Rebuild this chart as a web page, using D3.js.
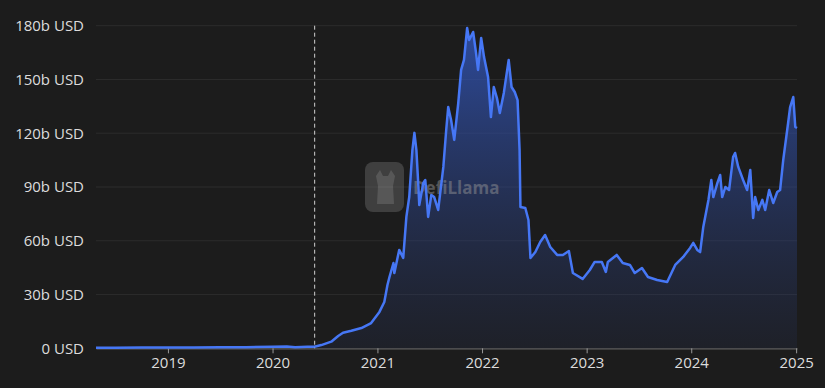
<!DOCTYPE html>
<html>
<head>
<meta charset="utf-8">
<script src="https://cdn.jsdelivr.net/npm/d3@7"></script>
<style>
  html, body { margin: 0; padding: 0; background: #1c1c1c; }
  svg { display: block; }
</style>
</head>
<body>
<div id="chart"></div>
<script>
// TVL data (billions USD)
var dates = [
  "2018-04-25", "2018-07-01", "2018-10-01", "2019-01-01", "2019-04-01", "2019-07-01",
  "2019-10-01", "2020-01-01", "2020-02-20", "2020-03-20", "2020-05-01", "2020-05-26",
  "2020-06-19", "2020-07-24", "2020-08-17", "2020-09-03", "2020-10-02", "2020-11-06",
  "2020-12-10", "2021-01-08", "2021-01-25", "2021-02-05", "2021-02-12", "2021-02-26",
  "2021-03-01", "2021-03-18", "2021-04-01", "2021-04-12", "2021-04-22", "2021-05-03",
  "2021-05-10", "2021-05-17", "2021-05-24", "2021-05-27", "2021-06-10", "2021-06-17",
  "2021-06-27", "2021-07-08", "2021-07-18", "2021-08-01", "2021-08-19", "2021-08-29",
  "2021-09-05", "2021-09-15", "2021-09-26", "2021-10-10", "2021-10-20", "2021-10-30",
  "2021-11-10", "2021-11-17", "2021-12-01", "2021-12-11", "2021-12-18", "2021-12-29",
  "2022-01-08", "2022-01-22", "2022-02-01", "2022-02-11", "2022-02-22", "2022-03-04",
  "2022-03-18", "2022-04-04", "2022-04-14", "2022-04-25", "2022-05-05", "2022-05-12",
  "2022-05-15", "2022-06-01", "2022-06-12", "2022-06-19", "2022-07-06", "2022-07-23",
  "2022-08-09", "2022-08-27", "2022-09-20", "2022-10-10", "2022-10-31", "2022-11-14",
  "2022-12-18", "2023-01-12", "2023-01-29", "2023-02-23", "2023-03-09", "2023-03-16",
  "2023-04-16", "2023-05-07", "2023-06-01", "2023-06-18", "2023-07-13", "2023-08-03",
  "2023-09-04", "2023-10-09", "2023-11-06", "2023-12-04", "2023-12-28", "2024-01-08",
  "2024-01-22", "2024-02-01", "2024-02-12", "2024-03-01", "2024-03-11", "2024-03-18",
  "2024-04-01", "2024-04-11", "2024-04-18", "2024-04-29", "2024-05-12", "2024-05-26",
  "2024-06-02", "2024-06-13", "2024-06-30", "2024-07-14", "2024-07-25", "2024-08-04",
  "2024-08-11", "2024-08-22", "2024-09-05", "2024-09-15", "2024-09-29", "2024-10-13",
  "2024-10-27", "2024-11-06", "2024-11-17", "2024-12-04", "2024-12-11", "2024-12-22",
  "2024-12-29", "2025-01-04"
];
var tvl = [
  0.3, 0.3, 0.4, 0.5, 0.5, 0.6,
  0.6, 0.8, 1.0, 0.6, 0.9, 0.9,
  1.8, 3.7, 6.9, 8.7, 9.8, 11.3,
  14.1, 20.3, 25.8, 35.3, 39.8, 47.6,
  42.0, 54.9, 50.4, 73.3, 84.4, 110.6,
  120.2, 110.6, 90.0, 80.0, 92.2, 93.9,
  73.3, 85.6, 84.4, 77.2, 101.2, 121.8,
  134.6, 127.4, 116.3, 136.8, 155.3, 160.9,
  178.7, 172.0, 176.5, 164.8, 155.3, 173.2,
  162.5, 151.4, 129.0, 145.8, 139.6, 131.3,
  142.5, 160.9, 145.8, 143.0, 138.5, 110.6,
  78.8, 78.3, 71.6, 50.4, 53.7, 59.3,
  63.2, 56.5, 52.1, 52.1, 54.3, 42.0,
  38.7, 43.7, 48.2, 48.2, 42.6, 48.2,
  52.1, 47.6, 46.5, 42.0, 44.8, 39.8,
  38.1, 37.0, 46.5, 51.0, 56.0, 58.8,
  54.9, 53.7, 67.7, 82.8, 93.9, 84.4,
  92.2, 96.7, 84.4, 90.0, 88.3, 106.7,
  109.0, 101.2, 93.9, 88.3, 99.5, 72.7,
  84.4, 77.2, 82.8, 77.2, 88.3, 81.1,
  87.2, 88.3, 105.1, 125.7, 134.6, 140.2,
  123.5, 122.9
];
var yTicks = [0, 30, 60, 90, 120, 150, 180];
var yearTicks = ["2019", "2020", "2021", "2022", "2023", "2024", "2025"];
var markerDate = "2020-05-27";

var parse = d3.timeParse("%Y-%m-%d");
var data = dates.map(function(d, i) { return { date: parse(d), value: tvl[i] }; });

var W = 825, H = 388;
var margin = { top: 25, right: 28, bottom: 39, left: 96 };
var font = "'Open Sans', 'Noto Sans', sans-serif";

var svg = d3.select("#chart").append("svg")
  .attr("width", W)
  .attr("height", H);

var x = d3.scaleTime()
  .domain([parse("2018-04-25"), parse("2025-01-04")])
  .range([margin.left, W - margin.right]);

var y = d3.scaleLinear()
  .domain([0, 180])
  .range([H - margin.bottom - 0.7, margin.top + 0.7]);

// gradient under the line
var defs = svg.append("defs");
var grad = defs.append("linearGradient")
  .attr("id", "tvlFill")
  .attr("x1", 0).attr("y1", 0).attr("x2", 0).attr("y2", 1);
grad.append("stop").attr("offset", "0%").attr("stop-color", "#3257bd").attr("stop-opacity", 0.8);
grad.append("stop").attr("offset", "100%").attr("stop-color", "#2a3a70").attr("stop-opacity", 0.15);

// horizontal grid + y labels
svg.append("g")
  .selectAll("line")
  .data(yTicks.slice(1))
  .enter().append("line")
  .attr("x1", margin.left)
  .attr("x2", W - margin.right)
  .attr("y1", function(d) { return y(d); })
  .attr("y2", function(d) { return y(d); })
  .attr("stroke", "#2c2c2c")
  .attr("stroke-width", 1);

svg.append("g")
  .selectAll("text")
  .data(yTicks)
  .enter().append("text")
  .attr("x", 84)
  .attr("y", function(d) { return y(d); })
  .attr("dy", "0.36em")
  .attr("text-anchor", "end")
  .attr("fill", "#dcdcdc")
  .style("font-family", font)
  .style("font-size", "15px")
  .text(function(d) { return d === 0 ? "0 USD" : d + "b USD"; });

// x axis
var xAxis = svg.append("g")
  .attr("transform", "translate(0," + y(0) + ")")
  .call(d3.axisBottom(x)
    .tickValues(yearTicks.map(function(t) { return parse(t + "-01-01"); }))
    .tickFormat(d3.timeFormat("%Y"))
    .tickSize(5)
    .tickSizeOuter(0)
    .tickPadding(4));
xAxis.select(".domain").attr("stroke", "#5e5e5e").attr("stroke-width", 1.2);
xAxis.selectAll(".tick line").attr("stroke", "#9a9a9a");
xAxis.selectAll(".tick text")
  .attr("fill", "#dcdcdc")
  .style("font-family", font)
  .style("font-size", "15px");

// area
var area = d3.area()
  .x(function(d) { return x(d.date); })
  .y0(y(0))
  .y1(function(d) { return y(d.value); });

var line = d3.line()
  .x(function(d) { return x(d.date); })
  .y(function(d) { return y(d.value); });

svg.append("path")
  .datum(data)
  .attr("d", area)
  .attr("fill", "url(#tvlFill)");

// watermark
var wm = svg.append("g").attr("opacity", 0.45);
wm.append("rect")
  .attr("x", 365).attr("y", 162)
  .attr("width", 39).attr("height", 50)
  .attr("rx", 8)
  .attr("fill", "#6a6a6a");
wm.append("path")
  .attr("d", "M376,176 L380,170 L383,176 L388,176 L391,170 L395,176 L393,186 L394,204 L377,204 L378,186 Z")
  .attr("fill", "#a0a0a0");
wm.append("text")
  .attr("x", 413).attr("y", 194)
  .attr("fill", "#9a9a9a")
  .style("font-family", font)
  .style("font-weight", "700")
  .style("font-size", "17px")
  .text("DefiLlama");

// line
svg.append("path")
  .datum(data)
  .attr("d", line)
  .attr("fill", "none")
  .attr("stroke", "#4677f5")
  .attr("stroke-width", 2.5)
  .attr("stroke-linejoin", "round");

// dashed marker
svg.append("line")
  .attr("x1", x(parse(markerDate)))
  .attr("x2", x(parse(markerDate)))
  .attr("y1", y(180))
  .attr("y2", y(0))
  .attr("stroke", "#d0d0d0")
  .attr("stroke-width", 1)
  .attr("stroke-dasharray", "4,3");
</script>
</body>
</html>
